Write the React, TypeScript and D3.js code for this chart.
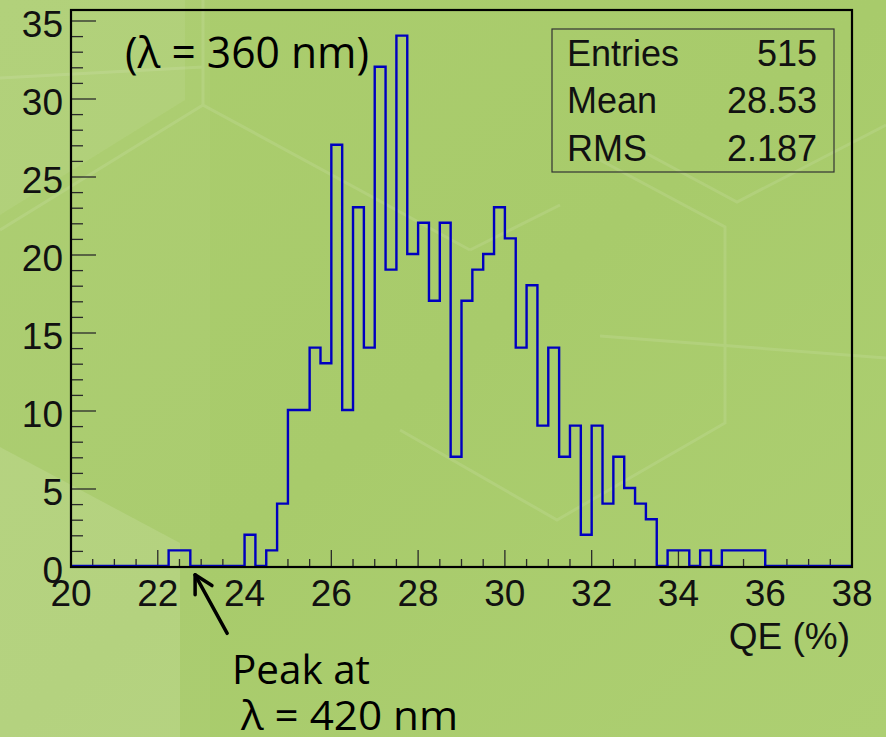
import React from "react";
import * as d3 from "d3";

// Histogram of quantum efficiency, 0.25 %-wide bins from 20 to 38
const binStart = 20;
const binWidth = 0.25;
const counts = [
  0, 0, 0, 0, 0, 0, 0, 0, // 20.0 - 22.0
  0, 1, 1, 0, 0, 0, 0, 0, // 22.0 - 24.0
  2, 0, 1, 4, 10, 10, 14, 13, // 24.0 - 26.0
  27, 10, 23, 14, 32, 19, 34, 20, // 26.0 - 28.0
  22, 17, 22, 7, 17, 19, 20, 23, // 28.0 - 30.0
  21, 14, 18, 9, 14, 7, 9, 2, // 30.0 - 32.0
  9, 4, 7, 5, 4, 3, 0, 1, // 32.0 - 34.0
  1, 0, 1, 0, 1, 1, 1, 1, // 34.0 - 36.0
  0, 0, 0, 0, 0, 0, 0, 0, // 36.0 - 38.0
];

const xMajorTicks = [20, 22, 24, 26, 28, 30, 32, 34, 36, 38];
const yMajorTicks = [0, 5, 10, 15, 20, 25, 30, 35];
const statLabels = ["Entries", "Mean", "RMS"];
const statValues = ["515", "28.53", "2.187"];
const xTitle = "QE (%)";
const topNote = "(λ = 360 nm)";
const peakNote = ["Peak at", " λ = 420 nm"];

const W = 886;
const H = 737;
const plot = { left: 71, right: 852, top: 10, bottom: 567 };

const axisFont = "'Liberation Sans', Arial, Helvetica, sans-serif";
const noteFont = "'Open Sans', 'Noto Sans', sans-serif";

export default function App() {
  const x = d3.scaleLinear().domain([20, 38]).range([plot.left, plot.right]);
  const y = d3.scaleLinear().domain([0, 35]).range([plot.bottom, 21]);

  // step outline of the histogram
  const pts: [number, number][] = [];
  counts.forEach((c, i) => {
    const lo = binStart + i * binWidth;
    pts.push([lo, c], [lo + binWidth, c]);
  });
  const outline = d3
    .line<[number, number]>()
    .x((d) => x(d[0]))
    .y((d) => y(d[1]) - 1)(pts) as string;

  const xMinor = d3.range(20, 38.001, 0.5).filter((v) => !xMajorTicks.includes(v));
  const yMinor = d3.range(0, 35.001, 1).filter((v) => !yMajorTicks.includes(v));

  // arrow pointing at the 420 nm peak position on the QE axis
  const arrowTip: [number, number] = [x(22.86), y(-0.5)];
  const arrowTail: [number, number] = [x(23.6), y(-4.25)];
  const ang = Math.atan2(arrowTail[1] - arrowTip[1], arrowTail[0] - arrowTip[0]);
  const headLen = 20;
  const spread = 0.5;
  const h1: [number, number] = [
    arrowTip[0] + headLen * Math.cos(ang - spread),
    arrowTip[1] + headLen * Math.sin(ang - spread),
  ];
  const h2: [number, number] = [
    arrowTip[0] + headLen * Math.cos(ang + spread),
    arrowTip[1] + headLen * Math.sin(ang + spread),
  ];

  const statTop = 29;
  const rowGap = 47.5;

  return (
    <svg
      width={W}
      height={H}
      viewBox={`0 0 ${W} ${H}`}
      style={{ position: "absolute", left: 0, top: 0, display: "block" }}
    >
      <defs>
        <linearGradient id="bg" x1="0" y1="0" x2="1" y2="1">
          <stop offset="0" stopColor="#abcd6e" />
          <stop offset="0.5" stopColor="#a8cb6b" />
          <stop offset="1" stopColor="#adcf72" />
        </linearGradient>
      </defs>

      {/* slide background with faint hexagon pattern */}
      <rect x={0} y={0} width={W} height={H} fill="url(#bg)" />
      <polygon points="0,0 185,0 185,100 0,215" fill="#ffffff" opacity={0.09} />
      <polygon points="0,447 180,543 180,737 0,737" fill="#ffffff" opacity={0.14} />
      <polygon points="0,215 185,100 185,0 210,0 210,737 180,737 180,543 0,447" fill="#ffffff" opacity={0.03} />
      <g stroke="#ffffff" strokeWidth={3} fill="none" opacity={0.1}>
        <path d="M203,0 L203,105 L470,250" />
        <path d="M0,78 L203,67" />
        <path d="M203,105 L0,230" />
        <path d="M470,250 L560,205" />
        <path d="M600,160 L725,227 L725,423 L557,520 L400,430" />
        <path d="M640,150 L737,202 L886,125" />
        <path d="M600,336 L886,358" />
      </g>

      {/* ticks */}
      <g stroke="#2a2a2a" strokeWidth={1.3}>
        {yMajorTicks.map((t) => (
          <line key={`ym${t}`} x1={plot.left} x2={plot.left + 25} y1={y(t)} y2={y(t)} />
        ))}
        {yMinor.map((t) => (
          <line key={`yn${t}`} x1={plot.left} x2={plot.left + 12} y1={y(t)} y2={y(t)} />
        ))}
        {xMajorTicks.map((t) => (
          <line key={`xm${t}`} x1={x(t)} x2={x(t)} y1={plot.bottom} y2={plot.bottom - 17} />
        ))}
        {xMinor.map((t) => (
          <line key={`xn${t}`} x1={x(t)} x2={x(t)} y1={plot.bottom} y2={plot.bottom - 8} />
        ))}
      </g>

      {/* histogram */}
      <path d={outline} fill="none" stroke="#0000c0" strokeWidth={2.4} />

      {/* frame */}
      <rect
        x={plot.left}
        y={plot.top}
        width={plot.right - plot.left}
        height={plot.bottom - plot.top}
        fill="none"
        stroke="#000"
        strokeWidth={2.2}
      />

      {/* tick labels */}
      <g fontFamily={axisFont} fontSize={37} fill="#111">
        {yMajorTicks.map((t) => (
          <text key={`yl${t}`} x={63} y={y(t) + 16} textAnchor="end">
            {t}
          </text>
        ))}
        {xMajorTicks.map((t) => (
          <text key={`xl${t}`} x={x(t)} y={606} textAnchor="middle">
            {t}
          </text>
        ))}
        <text x={850} y={649} textAnchor="end">
          {xTitle}
        </text>
      </g>

      {/* statistics box */}
      <rect x={552} y={statTop} width={282} height={143} fill="none" stroke="#333" strokeWidth={1.2} />
      <g fontFamily={axisFont} fontSize={36} fill="#111">
        {statLabels.map((s, i) => (
          <text key={s} x={567} y={statTop + 36.5 + i * rowGap}>
            {s}
          </text>
        ))}
        {statValues.map((s, i) => (
          <text key={s} x={817} y={statTop + 36.5 + i * rowGap} textAnchor="end">
            {s}
          </text>
        ))}
      </g>

      {/* annotations */}
      <g fontFamily={noteFont} fill="#000">
        <text x={125} y={68} fontSize={43} textLength={244} lengthAdjust="spacingAndGlyphs">
          {topNote}
        </text>
        <text x={232} y={684} fontSize={41} textLength={138} lengthAdjust="spacingAndGlyphs">
          {peakNote[0]}
        </text>
        <text
          x={230}
          y={730}
          fontSize={40}
          textLength={228}
          lengthAdjust="spacingAndGlyphs"
          style={{ whiteSpace: "pre" }}
        >
          {peakNote[1]}
        </text>
      </g>
      <g stroke="#000" strokeWidth={3.5} fill="none" strokeLinecap="round" strokeLinejoin="round">
        <line x1={arrowTail[0]} y1={arrowTail[1]} x2={arrowTip[0]} y2={arrowTip[1]} />
        <polyline points={`${h1[0]},${h1[1]} ${arrowTip[0]},${arrowTip[1]} ${h2[0]},${h2[1]}`} />
      </g>
    </svg>
  );
}
